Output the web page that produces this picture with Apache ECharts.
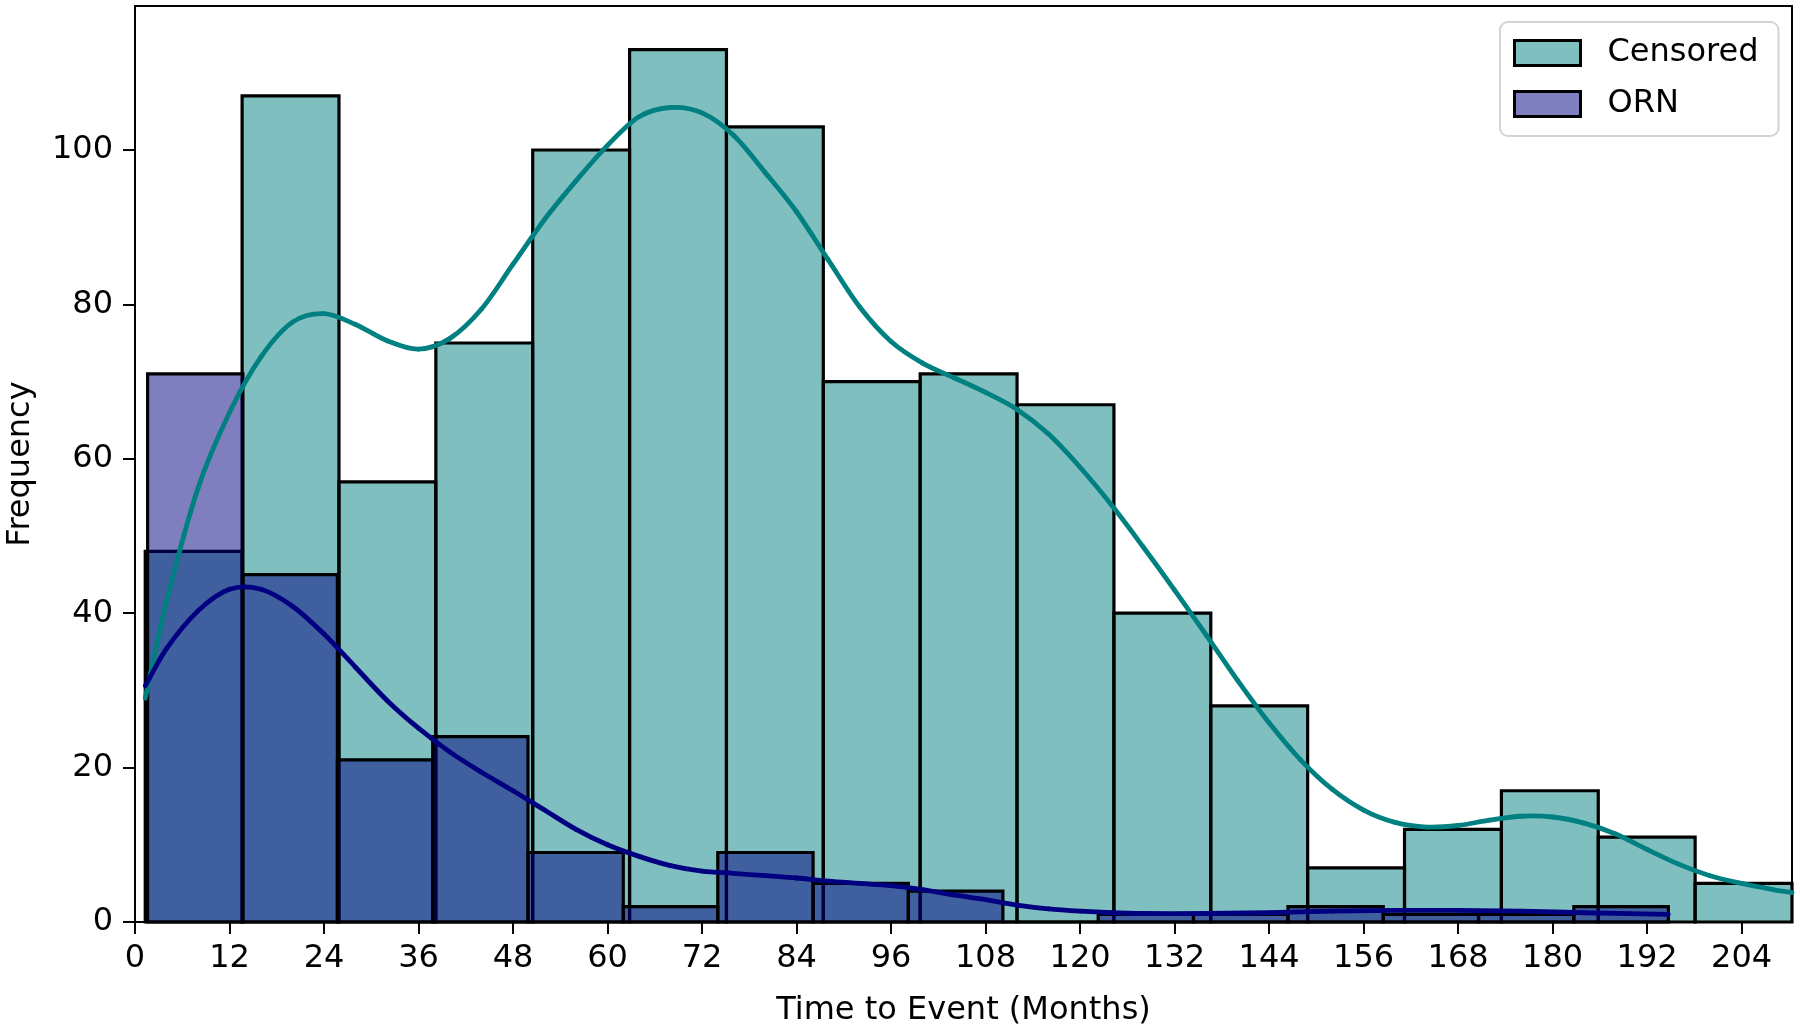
<!DOCTYPE html>
<html>
<head>
<meta charset="utf-8">
<script src="https://cdn.jsdelivr.net/npm/echarts@6/dist/echarts.min.js"></script>
<style>
html,body{margin:0;padding:0;background:#fff;}
#chart{width:1800px;height:1028px;}
</style>
</head>
<body>
<div id="chart"></div>
<script>
// ---- Data ----
const xTicks = [0, 12, 24, 36, 48, 60, 72, 84, 96, 108, 120, 132, 144, 156, 168, 180, 192, 204];
const yTicks = [0, 20, 40, 60, 80, 100];

const censoredEdges = [1.3, 13.6, 25.9, 38.2, 50.5, 62.8, 75.1, 87.4, 99.7, 112.0, 124.3, 136.6, 148.9, 161.2, 173.5, 185.8, 198.1, 210.4];
const censoredCounts = [48, 107, 57, 75, 100, 113, 103, 70, 71, 67, 40, 28, 7, 12, 17, 11, 5];

const ornEdges = [1.6, 13.7, 25.7, 37.8, 49.9, 62.0, 74.0, 86.1, 98.2, 110.2, 122.3, 134.4, 146.4, 158.5, 170.6, 182.7, 194.7];
const ornCounts = [71, 45, 21, 24, 9, 2, 9, 5, 4, 0, 1, 1, 2, 1, 1, 2];

const censoredKdeX = [1.3, 4, 8, 12, 16, 20, 24, 28, 32, 36, 40, 44, 48, 52, 56, 60, 64, 68, 72, 76, 80, 84, 88, 92, 96, 100, 104, 108, 112, 116, 120, 124, 128, 132, 136, 140, 144, 148, 152, 156, 160, 164, 168, 172, 176, 180, 184, 188, 192, 196, 200, 204, 208, 210.4];
const censoredKdeY = [29.0, 41.5, 56.2, 66.0, 73.2, 77.7, 78.8, 77.4, 75.3, 74.2, 75.6, 79.4, 85.2, 91.0, 96.0, 100.6, 104.3, 105.5, 104.8, 101.9, 97.1, 92.0, 85.8, 79.7, 75.2, 72.4, 70.5, 68.6, 66.4, 63.2, 58.9, 54.0, 48.6, 43.0, 37.2, 31.3, 25.8, 21.0, 17.2, 14.5, 12.9, 12.3, 12.5, 13.2, 13.7, 13.6, 12.8, 11.4, 9.4, 7.5, 6.0, 5.0, 4.2, 3.8];

const ornKdeX = [1.3, 4, 8, 12, 16, 20, 24, 28, 32, 36, 40, 44, 48, 52, 56, 60, 64, 68, 72, 76, 80, 84, 88, 92, 96, 100, 104, 108, 112, 116, 120, 124, 128, 136, 144, 152, 160, 168, 176, 184, 194.7];
const ornKdeY = [30.6, 35.4, 40.3, 43.1, 43.1, 40.9, 37.3, 33.0, 28.7, 25.1, 22.0, 19.4, 17.0, 14.5, 12.0, 10.0, 8.5, 7.3, 6.6, 6.3, 6.0, 5.7, 5.3, 5.0, 4.7, 4.2, 3.5, 2.9, 2.2, 1.7, 1.4, 1.2, 1.1, 1.1, 1.2, 1.4, 1.5, 1.5, 1.4, 1.2, 1.0];

// ---- Build series data ----
function binData(edges, counts) {
  return counts.map((c, i) => [edges[i], edges[i + 1], c]);
}
function pairs(xs, ys) { return xs.map((x, i) => [x, ys[i]]); }

const FONT = 'DejaVu Sans';
const censoredFill = 'rgba(0,128,128,0.5)';
const ornFill = 'rgba(0,0,128,0.5)';

function histRender(fill) {
  return function (params, api) {
    const p0 = api.coord([api.value(0), 0]);
    const p1 = api.coord([api.value(1), api.value(2)]);
    const rect = echarts.graphic.clipRectByRect({
      x: p0[0], y: p1[1], width: p1[0] - p0[0], height: p0[1] - p1[1]
    }, {
      x: params.coordSys.x, y: params.coordSys.y,
      width: params.coordSys.width, height: params.coordSys.height
    });
    if (!rect) return;
    return {
      type: 'rect',
      shape: rect,
      style: { fill: fill, stroke: '#000', lineWidth: 3.2 }
    };
  };
}

// Smooth curve through the KDE points (cubic Hermite in x), drawn in axis coordinates.
function kdeRender(xs, ys, color) {
  return function (params, api) {
    if (params.dataIndex !== 0) return;
    const pts = xs.map((x, i) => api.coord([x, ys[i]]));
    const n = pts.length;
    const m = pts.map((p, i) => {
      const a = pts[Math.max(0, i - 1)], b = pts[Math.min(n - 1, i + 1)];
      return (b[1] - a[1]) / (b[0] - a[0]);
    });
    const children = [];
    for (let i = 0; i < n - 1; i++) {
      const p = pts[i], q = pts[i + 1], h = (q[0] - p[0]) / 3;
      children.push({
        type: 'bezierCurve',
        shape: {
          x1: p[0], y1: p[1],
          cpx1: p[0] + h, cpy1: p[1] + m[i] * h,
          cpx2: q[0] - h, cpy2: q[1] - m[i + 1] * h,
          x2: q[0], y2: q[1]
        },
        style: { fill: null, stroke: color, lineWidth: 4.8, lineCap: 'round' }
      });
    }
    return { type: 'group', children: children };
  };
}

const chart = echarts.init(document.getElementById('chart'), null, { renderer: 'canvas' });
chart.setOption({
  animation: false,
  backgroundColor: '#fff',
  textStyle: { fontFamily: FONT },
  grid: {
    left: 135, right: 8, top: 6, bottom: 106,
    outerBoundsMode: 'none', containLabel: false,
    show: true, borderColor: '#000', borderWidth: 2, backgroundColor: 'transparent'
  },
  legend: {
    orient: 'vertical',
    left: 1500, top: 22,
    padding: [15, 20, 16, 13],
    backgroundColor: '#fff',
    borderColor: '#d4d4d4', borderWidth: 2, borderRadius: 8,
    itemWidth: 66, itemHeight: 25, itemGap: 19,
    textStyle: { fontFamily: FONT, fontSize: 32, color: '#000', padding: [0, 0, 0, 22] },
    data: [
      { name: 'Censored', icon: 'rect', itemStyle: { color: censoredFill, borderColor: '#000', borderWidth: 3 } },
      { name: 'ORN', icon: 'rect', itemStyle: { color: ornFill, borderColor: '#000', borderWidth: 3 } }
    ]
  },
  xAxis: {
    type: 'value', min: 0, max: 210.4, interval: 12,
    name: 'Time to Event (Months)', nameLocation: 'middle', nameGap: 73,
    nameTextStyle: { fontFamily: FONT, fontSize: 32, color: '#000' },
    axisLine: { show: true, onZero: false, lineStyle: { color: '#000', width: 2 } },
    axisTick: { show: true, length: 12, lineStyle: { color: '#000', width: 2 } },
    axisLabel: {
      fontFamily: FONT, fontSize: 32, color: '#000', margin: 21,
      showMaxLabel: false,
      formatter: v => (xTicks.indexOf(v) >= 0 ? String(v) : '')
    },
    splitLine: { show: false }
  },
  yAxis: {
    type: 'value', min: 0, max: 118.65, interval: 20,
    name: 'Frequency', nameLocation: 'middle', nameGap: 98,
    nameTextStyle: { fontFamily: FONT, fontSize: 32, color: '#000' },
    axisLine: { show: true, lineStyle: { color: '#000', width: 2 } },
    axisTick: { show: true, length: 12, lineStyle: { color: '#000', width: 2 } },
    axisLabel: {
      fontFamily: FONT, fontSize: 32, color: '#000', margin: 22,
      showMaxLabel: false,
      formatter: v => (yTicks.indexOf(v) >= 0 ? String(v) : '')
    },
    splitLine: { show: false }
  },
  series: [
    {
      name: 'Censored', type: 'custom',
      renderItem: histRender(censoredFill),
      encode: { x: [0, 1], y: 2 },
      itemStyle: { color: censoredFill, borderColor: '#000' },
      data: binData(censoredEdges, censoredCounts), z: 2
    },
    {
      name: 'ORN', type: 'custom',
      renderItem: histRender(ornFill),
      encode: { x: [0, 1], y: 2 },
      itemStyle: { color: ornFill, borderColor: '#000' },
      data: binData(ornEdges, ornCounts), z: 3
    },
    {
      name: 'Censored KDE', type: 'custom',
      renderItem: kdeRender(censoredKdeX, censoredKdeY, '#008080'),
      encode: { x: 0, y: 1 },
      itemStyle: { color: '#008080' },
      data: pairs(censoredKdeX, censoredKdeY), z: 4
    },
    {
      name: 'ORN KDE', type: 'custom',
      renderItem: kdeRender(ornKdeX, ornKdeY, '#000080'),
      encode: { x: 0, y: 1 },
      itemStyle: { color: '#000080' },
      data: pairs(ornKdeX, ornKdeY), z: 5
    }
  ]
});
</script>
</body>
</html>
